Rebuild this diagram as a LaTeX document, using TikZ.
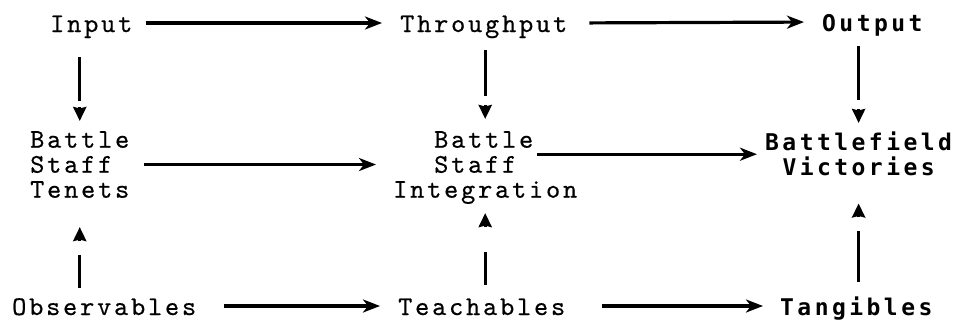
\documentclass[tikz,border=0pt]{standalone}
\usepackage{fontspec}
\newfontfamily\regmono{lmmono10-regular.otf}[LetterSpace=10.4,FakeBold=0.5]
\newfontfamily\boldmono{DejaVu Sans Mono}[LetterSpace=15]
\usetikzlibrary{arrows.meta}
\newcommand\regfont{\regmono\fontsize{27}{25}\selectfont}
\newcommand\bfntx{\boldmono\bfseries\fontsize{23}{25}\selectfont}
\begin{document}
\begin{tikzpicture}[x=1pt,y=-1pt,
  lbl/.style={inner sep=0pt, anchor=base west, text height=18pt, text depth=0pt, font=\regfont},
  blbl/.style={lbl, font=\bfntx},
  multi/.style={inner sep=0pt, anchor=north west, align=left, font=\regfont},
  bmulti/.style={inner sep=0pt, anchor=north west, align=center, font=\bfntx},
  conn/.style={line width=3.2pt},
  harrow/.style={conn, -{Stealth[length=17pt,width=13pt,inset=5pt]}},
  headonly/.style={line width=3.2pt, -{Stealth[length=14pt,width=13pt,inset=1.5pt]}}]
\useasboundingbox (0,0) rectangle (962,324);
% row 1
\node[lbl]  (in)  at (50,32)  {Input};
\node[lbl]  (thr) at (400,32) {Throughput};
\node[blbl] (out) at (822,31) {Output};
% row 2
\node[multi]  (bst) at (30,131)  {Battle\\Staff\\Tenets};
\node[multi]  (bsi) at (393,131) {\hspace*{41pt}Battle\\\hspace*{41pt}Staff\\Integration};
\node[bmulti] (bv)  at (765,132) {Battlefield\\Victories};
% row 3
\node[lbl]  (obs) at (12,315)  {Observables};
\node[lbl]  (tea) at (398,315) {Teachables};
\node[blbl] (tan) at (780,315) {Tangibles};
% horizontal connectors
\draw[harrow, shorten <=13pt, shorten >=18pt] (in.east) -- (thr.west);
\draw[harrow, shorten <=22pt, shorten >=18pt] (thr.east) -- (out.west);
\draw[harrow, shorten <=15pt, shorten >=17pt] (bst.east) -- (bst.east -| bsi.west);
\draw[harrow, shorten >=8pt] ([xshift=-40pt]bsi.east |- bv.west) -- (bv.west);
\draw[harrow, shorten <=28pt, shorten >=18pt] (obs.east) -- (tea.west);
\draw[harrow, shorten <=37pt, shorten >=17pt] (tea.east) -- (tan.west);
% vertical connectors: line, a gap, then the head
\draw[conn, shorten <=25pt, shorten >=30pt] (in.south -| bst.north) -- (bst.north);
\draw[headonly] ([yshift=24pt]bst.north) -- ([yshift=10pt]bst.north);
\draw[conn, shorten <=18pt, shorten >=35pt] (thr.south -| bsi.north) -- (bsi.north);
\draw[headonly] ([yshift=26pt]bsi.north) -- ([yshift=12pt]bsi.north);
\draw[conn, shorten <=15pt, shorten >=32pt] (out.south -| bv.north) -- (bv.north);
\draw[headonly] ([yshift=23pt]bv.north) -- ([yshift=9pt]bv.north);
\draw[conn, shorten <=9pt, shorten >=57pt] (obs.north -| bst.south) -- (bst.south);
\draw[headonly] ([yshift=-43pt]bst.south) -- ([yshift=-29pt]bst.south);
\draw[conn, shorten <=12pt, shorten >=48pt] (tea.north -| bsi.south) -- (bsi.south);
\draw[headonly] ([yshift=-23pt]bsi.south) -- ([yshift=-9pt]bsi.south);
\draw[conn, shorten <=15pt, shorten >=55pt] (tan.north -| bv.south) -- (bv.south);
\draw[headonly] ([yshift=-41pt]bv.south) -- ([yshift=-27pt]bv.south);
\end{tikzpicture}
\end{document}
